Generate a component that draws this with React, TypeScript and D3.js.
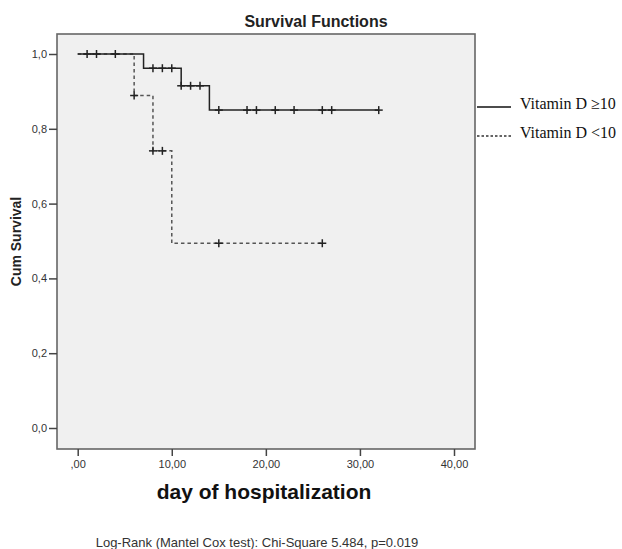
import React, {useEffect, useRef} from 'react';
import * as d3 from 'd3';

// Kaplan-Meier steps
const highTimes = [0, 7, 11, 14, 32];
const highSurvival = [1.0, 0.962, 0.915, 0.85, 0.85];
const highCensored = [1, 2, 4, 8, 9, 10, 11, 12, 13, 15, 18, 19, 21, 23, 26, 27, 32];

const lowTimes = [0, 6, 8, 10, 26];
const lowSurvival = [1.0, 0.889, 0.741, 0.494, 0.494];
const lowCensored = [6, 8, 9, 15, 26];

const xTicks = [0, 10, 20, 30, 40];
const yTicks = [0, 0.2, 0.4, 0.6, 0.8, 1.0];

const legendLabels = ['Vitamin D \u226510', 'Vitamin D <10'];

const width = 622, height = 549;
const frame = {left: 57, top: 34, right: 475, bottom: 449};

function survivalAt(times: number[], surv: number[], t: number) {
  let s = surv[0];
  for (let i = 0; i < times.length; i++) {
    if (times[i] <= t) s = surv[i];
  }
  return s;
}

const App: React.FC = () => {
  const ref = useRef<SVGSVGElement>(null);

  useEffect(() => {
    const svg = d3.select(ref.current);
    svg.selectAll('*').remove();

    const x = d3.scaleLinear().domain([0, 40]).range([77.7, 454]);
    const y = d3.scaleLinear().domain([0, 1]).range([428, 54]);

    svg.append('rect')
    .attr('x', frame.left)
    .attr('y', frame.top)
    .attr('width', frame.right - frame.left)
    .attr('height', frame.bottom - frame.top)
    .attr('fill', '#f0f0f0')
    .attr('stroke', '#666')
    .attr('stroke-width', 1.6);

    svg.append('text')
    .attr('x', 316)
    .attr('y', 27)
    .attr('text-anchor', 'middle')
    .attr('font-family', 'Arial, Liberation Sans, sans-serif')
    .attr('font-weight', 'bold')
    .attr('font-size', 16)
    .attr('fill', '#222')
    .text('Survival Functions');

    const yAxis = svg.append('g')
    .attr('transform', 'translate(' + frame.left + ',0)')
    .call(d3.axisLeft(y).tickValues(yTicks).tickSize(8).tickPadding(2)
      .tickFormat(d => d3.format('.1f')(d as number).replace('.', ',')));

    const xAxis = svg.append('g')
    .attr('transform', 'translate(0,' + frame.bottom + ')')
    .call(d3.axisBottom(x).tickValues(xTicks).tickSize(7).tickPadding(4)
      .tickFormat(d => (d === 0 ? ',00' : d3.format('.2f')(d as number).replace('.', ','))));

    [yAxis, xAxis].forEach(g => {
      g.select('.domain').remove();
      g.selectAll('line').attr('stroke', '#444').attr('stroke-width', 1.5);
      g.selectAll('text')
      .attr('font-family', 'Arial, Liberation Sans, sans-serif')
      .attr('font-size', 11)
      .attr('fill', '#333');
    });

    svg.append('text')
    .attr('transform', 'translate(21,' + (frame.top + frame.bottom) / 2 + ') rotate(-90)')
    .attr('text-anchor', 'middle')
    .attr('font-family', 'Arial, Liberation Sans, sans-serif')
    .attr('font-weight', 'bold')
    .attr('font-size', 14)
    .attr('fill', '#222')
    .text('Cum Survival');

    svg.append('text')
    .attr('x', 264)
    .attr('y', 499)
    .attr('text-anchor', 'middle')
    .attr('font-family', 'Arial, Liberation Sans, sans-serif')
    .attr('font-weight', 'bold')
    .attr('font-size', 21)
    .attr('fill', '#111')
    .text('day of hospitalization');

    svg.append('text')
    .attr('x', 257)
    .attr('y', 547)
    .attr('text-anchor', 'middle')
    .attr('font-family', 'Arial, Liberation Sans, sans-serif')
    .attr('font-size', 13)
    .attr('fill', '#333')
    .text('Log-Rank (Mantel Cox test): Chi-Square 5.484, p=0.019');

    const line = d3.line<[number, number]>()
    .x(d => x(d[0]))
    .y(d => y(d[1]))
    .curve(d3.curveStepAfter);

    const groups = [
      {times: lowTimes, surv: lowSurvival, censored: lowCensored, color: '#555', dash: '3.5,3'},
      {times: highTimes, surv: highSurvival, censored: highCensored, color: '#222', dash: null},
    ];

    groups.forEach(gr => {
      const pts = gr.times.map((t, i) => [t, gr.surv[i]] as [number, number]);
      svg.append('path')
      .attr('d', line(pts)!)
      .attr('fill', 'none')
      .attr('stroke', gr.color)
      .attr('stroke-width', 1.5)
      .attr('stroke-dasharray', gr.dash);

      const marks = svg.append('g');
      gr.censored.forEach(t => {
        const cx = x(t), cy = y(survivalAt(gr.times, gr.surv, t));
        marks.append('line')
        .attr('x1', cx - 4).attr('x2', cx + 4)
        .attr('y1', cy).attr('y2', cy)
        .attr('stroke', '#222').attr('stroke-width', 1.5);
        marks.append('line')
        .attr('x1', cx).attr('x2', cx)
        .attr('y1', cy - 4).attr('y2', cy + 4)
        .attr('stroke', '#222').attr('stroke-width', 1.5);
      });
    });

    // legend sits outside the frame, to the right
    const legend = svg.append('g');
    legendLabels.forEach((label, i) => {
      const ly = 107 + i * 29;
      legend.append('line')
      .attr('x1', 477).attr('x2', 511)
      .attr('y1', ly).attr('y2', ly)
      .attr('stroke', i === 0 ? '#111' : '#333')
      .attr('stroke-width', 1.4)
      .attr('stroke-dasharray', i === 0 ? null : '2.5,2');
      legend.append('text')
      .attr('x', 520)
      .attr('y', ly + 2)
      .attr('font-family', 'Liberation Serif, Times New Roman, serif')
      .attr('font-size', 16)
      .attr('fill', '#111')
      .text(label);
    });
  }, []);

  return (
    <svg ref={ref} width={width} height={height}
         style={{position: 'absolute', left: 0, top: 0, background: '#fff'}}/>
  );
};

export default App;
